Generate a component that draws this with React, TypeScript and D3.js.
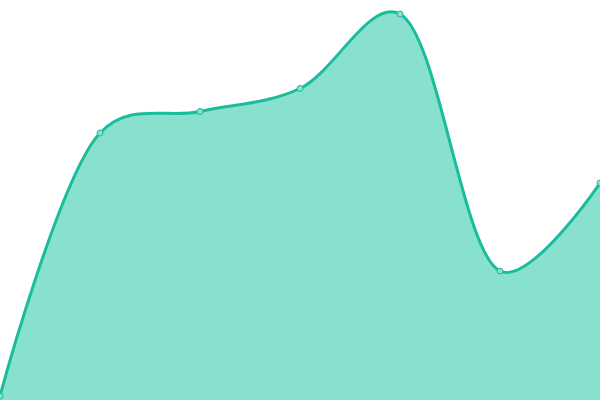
import React, { useEffect, useRef } from 'react';
import * as d3 from 'd3';

const categories = ['0', '1', '2', '3', '4', '5', '6'];
const values = [4, 267, 288.5, 311.5, 386, 129, 217];

const width = 600;
const height = 400;

const App: React.FC = () => {
  const ref = useRef<SVGSVGElement | null>(null);

  useEffect(() => {
    if (!ref.current) return;
    const svg = d3.select(ref.current);
    svg.selectAll('*').remove();

    const x = d3.scalePoint<string>()
      .domain(categories)
      .range([0, width]);

    const y = d3.scaleLinear()
      .domain([0, 400])
      .range([height, 0]);

    const data = categories.map((c, i) => ({ c, v: values[i] }));

    const curve = d3.curveCatmullRom.alpha(0.3);

    const area = d3.area<{ c: string; v: number }>()
      .x(d => x(d.c)!)
      .y0(y(0))
      .y1(d => y(d.v))
      .curve(curve);

    const line = d3.line<{ c: string; v: number }>()
      .x(d => x(d.c)!)
      .y(d => y(d.v))
      .curve(curve);

    svg.append('path')
      .datum(data)
      .attr('d', area)
      .attr('fill', '#88e0cf');

    svg.append('path')
      .datum(data)
      .attr('d', line)
      .attr('fill', 'none')
      .attr('stroke', '#1abc9c')
      .attr('stroke-width', 3);

    svg.append('g')
      .selectAll('circle')
      .data(data)
      .join('circle')
      .attr('cx', d => x(d.c)!)
      .attr('cy', d => y(d.v))
      .attr('r', 3)
      .attr('fill', '#88e0cf')
      .attr('stroke', '#1abc9c')
      .attr('stroke-width', 1);
  }, []);

  return (
    <svg
      ref={ref}
      width={width}
      height={height}
      style={{ position: 'fixed', left: 0, top: 0, background: '#fff' }}
    />
  );
};

export default App;
